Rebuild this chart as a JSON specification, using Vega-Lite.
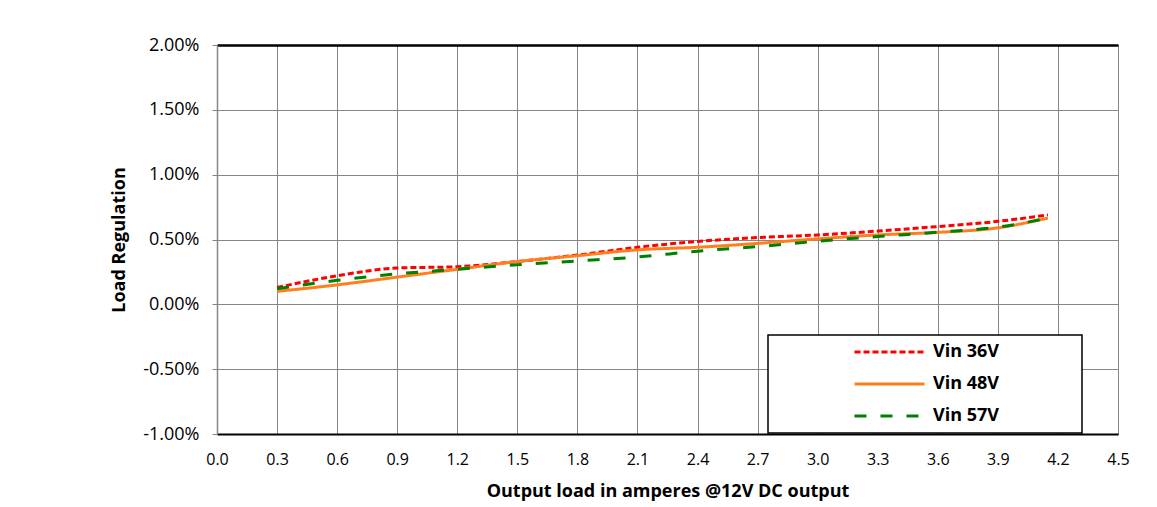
{
  "$schema": "https://vega.github.io/schema/vega-lite/v6.json",
  "width": 901,
  "height": 389,
  "autosize": {"type": "none"},
  "padding": {"left": 217, "top": 45, "right": 39, "bottom": 73},
  "background": "white",
  "config": {
    "font": "Open Sans",
    "view": {"stroke": "#868686", "strokeWidth": 1},
    "legend": {
      "orient": "none",
      "legendX": 551,
      "legendY": 290,
      "title": null,
      "strokeColor": "black",
      "strokeWidth": 1.5,
      "fillColor": "white",
      "padding": 8,
      "symbolType": "stroke",
      "symbolSize": 4900,
      "symbolOffset": 77,
      "labelOffset": 7,
      "clipHeight": 18,
      "rowPadding": 14,
      "labelFont": "Open Sans",
      "labelFontSize": 18,
      "labelFontWeight": "bold",
      "labelColor": "black",
      "labelLimit": 400
    }
  },
  "data": {
    "values": [
      {"load": 0.3, "reg": 0.0013, "series": "Vin 36V"},
      {"load": 0.6, "reg": 0.0022, "series": "Vin 36V"},
      {"load": 0.9, "reg": 0.0028, "series": "Vin 36V"},
      {"load": 1.2, "reg": 0.0029, "series": "Vin 36V"},
      {"load": 1.5, "reg": 0.0033, "series": "Vin 36V"},
      {"load": 1.8, "reg": 0.0038, "series": "Vin 36V"},
      {"load": 2.1, "reg": 0.0044, "series": "Vin 36V"},
      {"load": 2.4, "reg": 0.00485, "series": "Vin 36V"},
      {"load": 2.7, "reg": 0.00515, "series": "Vin 36V"},
      {"load": 3.0, "reg": 0.00535, "series": "Vin 36V"},
      {"load": 3.3, "reg": 0.00565, "series": "Vin 36V"},
      {"load": 3.6, "reg": 0.006, "series": "Vin 36V"},
      {"load": 3.9, "reg": 0.0064, "series": "Vin 36V"},
      {"load": 4.15, "reg": 0.0069, "series": "Vin 36V"},
      {"load": 0.3, "reg": 0.001, "series": "Vin 48V"},
      {"load": 0.6, "reg": 0.0015, "series": "Vin 48V"},
      {"load": 0.9, "reg": 0.0021, "series": "Vin 48V"},
      {"load": 1.2, "reg": 0.0027, "series": "Vin 48V"},
      {"load": 1.5, "reg": 0.0033, "series": "Vin 48V"},
      {"load": 1.8, "reg": 0.00375, "series": "Vin 48V"},
      {"load": 2.1, "reg": 0.0042, "series": "Vin 48V"},
      {"load": 2.4, "reg": 0.0044, "series": "Vin 48V"},
      {"load": 2.7, "reg": 0.0047, "series": "Vin 48V"},
      {"load": 3.0, "reg": 0.00505, "series": "Vin 48V"},
      {"load": 3.3, "reg": 0.00535, "series": "Vin 48V"},
      {"load": 3.6, "reg": 0.00555, "series": "Vin 48V"},
      {"load": 3.9, "reg": 0.0059, "series": "Vin 48V"},
      {"load": 4.15, "reg": 0.00665, "series": "Vin 48V"},
      {"load": 0.3, "reg": 0.0012, "series": "Vin 57V"},
      {"load": 0.6, "reg": 0.00185, "series": "Vin 57V"},
      {"load": 0.9, "reg": 0.00235, "series": "Vin 57V"},
      {"load": 1.2, "reg": 0.0027, "series": "Vin 57V"},
      {"load": 1.5, "reg": 0.00305, "series": "Vin 57V"},
      {"load": 1.8, "reg": 0.00335, "series": "Vin 57V"},
      {"load": 2.1, "reg": 0.00365, "series": "Vin 57V"},
      {"load": 2.4, "reg": 0.0041, "series": "Vin 57V"},
      {"load": 2.7, "reg": 0.00445, "series": "Vin 57V"},
      {"load": 3.0, "reg": 0.00487, "series": "Vin 57V"},
      {"load": 3.3, "reg": 0.00523, "series": "Vin 57V"},
      {"load": 3.6, "reg": 0.00556, "series": "Vin 57V"},
      {"load": 3.9, "reg": 0.00595, "series": "Vin 57V"},
      {"load": 4.15, "reg": 0.00665, "series": "Vin 57V"}
    ]
  },
  "resolve": {"axis": {"x": "independent"}},
  "layer": [
    {
      "mark": {"type": "line", "interpolate": "monotone"},
      "encoding": {
        "x": {
          "field": "load",
          "type": "quantitative",
          "scale": {"domain": [0, 4.5], "nice": false, "zero": false},
          "axis": {
            "values": [0, 0.3, 0.6, 0.9, 1.2, 1.5, 1.8, 2.1, 2.4, 2.7, 3.0, 3.3, 3.6, 3.9, 4.2, 4.5],
            "format": ".1f",
            "title": "Output load in amperes @12V DC output",
            "titleFont": "Open Sans",
            "titleFontSize": 18,
            "titleFontWeight": "bold",
            "titleColor": "black",
            "titlePadding": 15,
            "labelFont": "Open Sans",
            "labelFontSize": 16,
            "labelColor": "black",
            "labelPadding": 17,
            "labelFlush": false,
            "ticks": false,
            "domainColor": "black",
            "domainWidth": 2,
            "grid": true,
            "gridColor": "#868686",
            "gridWidth": 1,
            "gridOpacity": 1
          }
        },
        "y": {
          "field": "reg",
          "type": "quantitative",
          "scale": {"domain": [-0.01, 0.02], "nice": false, "zero": false},
          "axis": {
            "values": [-0.01, -0.005, 0, 0.005, 0.01, 0.015, 0.02],
            "format": ".2%",
            "labelExpr": "replace(datum.label, '\u2212', '-')",
            "title": "Load Regulation",
            "titleFont": "Open Sans",
            "titleFontSize": 18,
            "titleFontWeight": "bold",
            "titleColor": "black",
            "titlePadding": 14,
            "labelFont": "Open Sans",
            "labelFontSize": 18,
            "labelColor": "black",
            "labelPadding": 13,
            "labelFlush": false,
            "tickSize": 5,
            "tickColor": "#868686",
            "domainColor": "#868686",
            "domainWidth": 1.5,
            "grid": true,
            "gridColor": "#868686",
            "gridWidth": 1,
            "gridOpacity": 1
          }
        },
        "color": {
          "field": "series",
          "type": "nominal",
          "scale": {"domain": ["Vin 36V", "Vin 48V", "Vin 57V"], "range": ["#FF0000", "#FF7F1E", "#008000"]},
          "legend": {"labelExpr": "datum.label + '\u00a0\u00a0\u00a0\u00a0\u00a0\u00a0\u00a0\u00a0\u00a0\u00a0\u00a0\u00a0\u00a0\u00a0\u00a0\u00a0\u200b'"}
        },
        "strokeDash": {
          "field": "series",
          "type": "nominal",
          "scale": {"domain": ["Vin 36V", "Vin 48V", "Vin 57V"], "range": [[6, 3], [1, 0], [12, 14]]},
          "legend": {"labelExpr": "datum.label + '\u00a0\u00a0\u00a0\u00a0\u00a0\u00a0\u00a0\u00a0\u00a0\u00a0\u00a0\u00a0\u00a0\u00a0\u00a0\u00a0\u200b'"}
        },
        "strokeWidth": {
          "field": "series",
          "type": "nominal",
          "scale": {"domain": ["Vin 36V", "Vin 48V", "Vin 57V"], "range": [3, 3, 4]},
          "legend": {"labelExpr": "datum.label + '\u00a0\u00a0\u00a0\u00a0\u00a0\u00a0\u00a0\u00a0\u00a0\u00a0\u00a0\u00a0\u00a0\u00a0\u00a0\u00a0\u200b'"}
        }
      }
    },
    {
      "mark": {"type": "point", "opacity": 0},
      "encoding": {
        "x": {
          "field": "load",
          "type": "quantitative",
          "axis": {"orient": "top", "labels": false, "ticks": false, "grid": false, "title": null, "domainColor": "black", "domainWidth": 2.5}
        }
      }
    }
  ]
}
